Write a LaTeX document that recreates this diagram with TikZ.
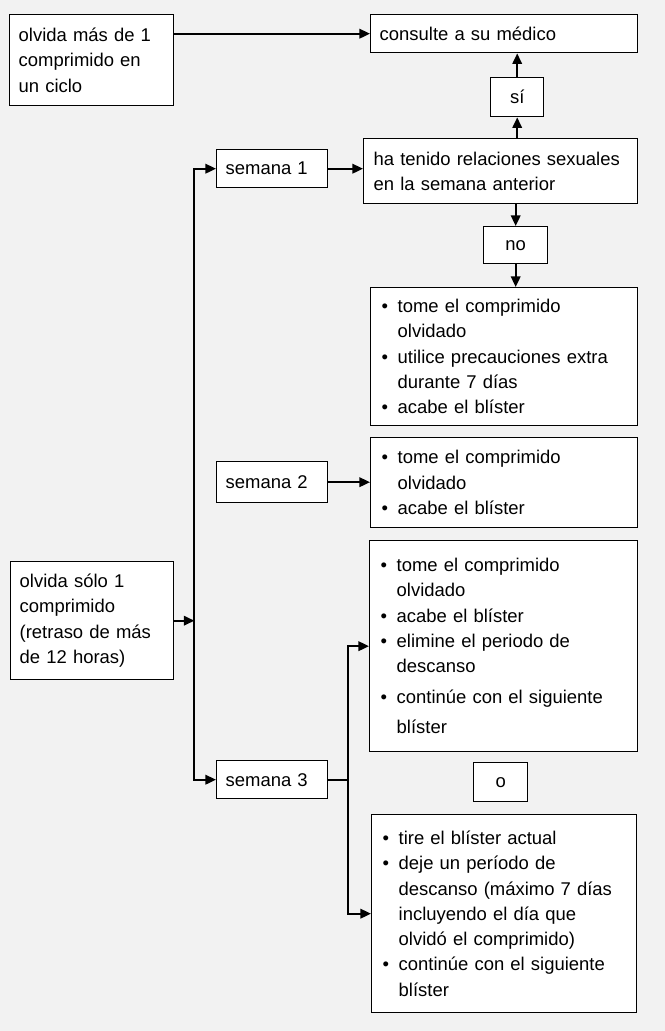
\documentclass[tikz,border=0pt]{standalone}
\usepackage{fontspec}
\setmainfont{Liberation Sans}
\usetikzlibrary{arrows.meta}
\definecolor{bggray}{RGB}{242,242,242}
\newcommand{\bul}{\makebox[0.32cm][l]{\textbullet}}
\newcommand{\ind}{\hspace*{0.32cm}}

\begin{document}
\begin{tikzpicture}[x=0.02cm,y=-0.02cm,>={Triangle[length=6pt,width=5.4pt]},
    font=\fontsize{10.5}{14.4}\selectfont,
    box/.style={draw,line width=0.8pt,fill=white,anchor=north west,
      inner xsep=0.18cm,inner ysep=0pt,align=left},
    lbox/.style={box,inner xsep=0.22cm},
    small/.style={box,align=center,inner xsep=0pt},
    flow/.style={->,line width=1.1pt}]
  \fill[bggray] (0,0) rectangle (665,1031);

  \node[box,text width=2.92cm,minimum height=1.82cm] (o2) at (9,14)
    {olvida más de 1\\comprimido en\\un ciclo};
  \node[box,text width=4.98cm,minimum height=0.76cm] (c1) at (370,14)
    {consulte a su médico};
  \node[small,minimum width=1.06cm,minimum height=0.78cm] (si) at (490,77) {sí};
  \node[box,inner xsep=0.2cm,text width=5.08cm,minimum height=1.30cm] (r1) at (363,138)
    {ha tenido relaciones sexuales\\en la semana anterior};
  \node[small,minimum width=1.28cm,minimum height=0.74cm] (no) at (483,226) {no};
  \node[lbox,text width=4.90cm,minimum height=2.76cm] (b1) at (370,287)
    {\bul tome el comprimido\\\ind olvidado\\\bul utilice precauciones extra\\
     \ind durante 7 días\\\bul acabe el blíster};

  \node[box,text width=1.86cm,minimum height=0.76cm] (s1) at (216,149) {semana 1};
  \node[box,text width=1.86cm,minimum height=0.82cm] (s2) at (216,461) {semana 2};
  \node[box,text width=1.86cm,minimum height=0.76cm] (s3) at (216,760) {semana 3};

  \node[lbox,text width=4.90cm,minimum height=1.80cm] (b2) at (370,437)
    {\bul tome el comprimido\\\ind olvidado\\\bul acabe el blíster};
  \node[lbox,text width=4.92cm,minimum height=4.22cm] (b3) at (369,540)
    {\bul tome el comprimido\\\ind olvidado\\\bul acabe el blíster\\
     \bul elimine el periodo de\\\ind descanso\\[3pt]
     \bul continúe con el siguiente\\[3pt]\ind blíster};
  \node[small,minimum width=1.08cm,minimum height=0.78cm] (alt) at (473,762) {o};
  \node[lbox,text width=4.86cm,minimum height=3.96cm] (b4) at (371,814)
    {\bul tire el blíster actual\\\bul deje un período de\\
     \ind descanso (máximo 7 días\\\ind incluyendo el día que\\
     \ind olvidó el comprimido)\\\bul continúe con el siguiente\\\ind blíster};

  \node[box,text width=2.90cm,minimum height=2.36cm] (o1) at (10,561)
    {olvida sólo 1\\comprimido\\(retraso de más\\de 12 horas)};

  \draw[flow] (o2.east |- c1.west) -- (c1.west);
  \draw[flow] (r1.north -| si.south) -- (si.south);
  \draw[flow] (si.north) -- (si.north |- c1.south);
  \draw[flow] (r1.south -| no.north) -- (no.north);
  \draw[flow] (no.south) -- (no.south |- b1.north);
  \draw[flow] (s1.east) -- (s1.east -| r1.west);
  \draw[flow] (s2.east) -- (s2.east -| b2.west);

  \path (o1.east) ++(20,0) coordinate (j);
  \draw[flow] (o1.east) -- (j);
  \draw[flow] (j) |- (s1.west);
  \draw[flow] (j) |- (s3.west);

  \path (s3.east) ++(20,0) coordinate (k);
  \draw[line width=1.1pt] (s3.east) -- (k);
  \draw[flow] (k) |- (b3.west);
  \draw[flow] (k) |- (b4.west);
\end{tikzpicture}
\end{document}
